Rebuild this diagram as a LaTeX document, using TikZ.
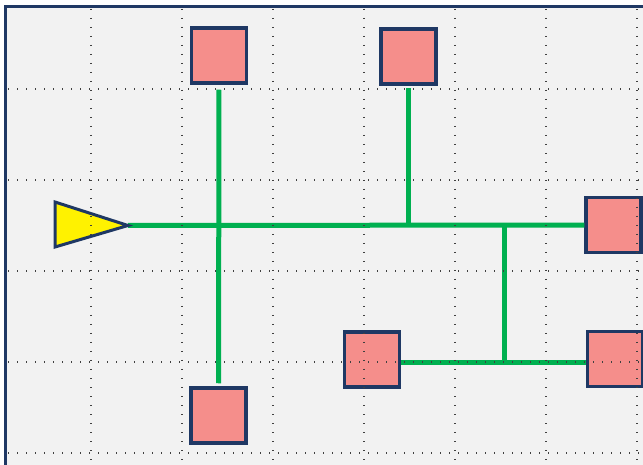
\documentclass[tikz,border=0pt]{standalone}
\usepackage{tikz}

\definecolor{navy}{HTML}{1F3864}
\definecolor{lgreen}{HTML}{00B050}
\definecolor{salmon}{HTML}{F58E8B}
\definecolor{bgray}{HTML}{F2F2F2}
\definecolor{dotgray}{HTML}{404040}

\begin{document}
\begin{tikzpicture}[x = 1pt, y = -1pt,
								box/.style = {rectangle, draw = navy, fill = 
								salmon, line width = 3.5pt, minimum size = 55pt, inner sep = 0pt},
								link/.style = {draw = lgreen, line width = 5pt},
								gridline/.style = {draw = dotgray, line width = 1.3pt,
								dash pattern = on 1.3pt off 7.7pt}]

				\useasboundingbox (0,0) rectangle (643,465);
				\draw [navy, line width = 3pt, fill = bgray] (5.5,6.5) rectangle (670,467.5);

				\node [box] (b_1) at (219,55.5) {};
				\node [box] (b_2) at (408.5,56.5) {};
				\node [box] (b_3) at (613.5,225) {};
				\node [box] (b_4) at (372,359.5) {};
				\node [box] (b_5) at (615,359) {};
				\node [box] (b_6) at (218.5,415.5) {};

				\coordinate (src) at (128,225.5);
				\coordinate (j_1) at (408.5,225.5);
				\coordinate (j_2) at (504,225.5);
				\coordinate (j_3) at (504,362.5);

				\draw [link] (src) -- (b_3);
				\draw [link, shorten <= 5pt, shorten >= 3pt] (b_1) -- (b_6);
				\draw [link, shorten <= 2.5pt] (b_2) -- (j_1);
				\draw [link] (j_2) -- (j_3);
				\draw [link] (b_4.east |- j_3) -- (b_5.west |- j_3);

				\draw [navy, line width = 3pt, fill = yellow, line join = miter]
				(55,202) -- (55,247) -- (src) -- cycle;

				\foreach \x in {91,182,...,637}
				\draw [gridline] (\x,9) -- (\x,465);
				\foreach \y in {89,180,...,453}
				\draw [gridline] (8,\y) -- (643,\y);
			\end{tikzpicture}
\end{document}
